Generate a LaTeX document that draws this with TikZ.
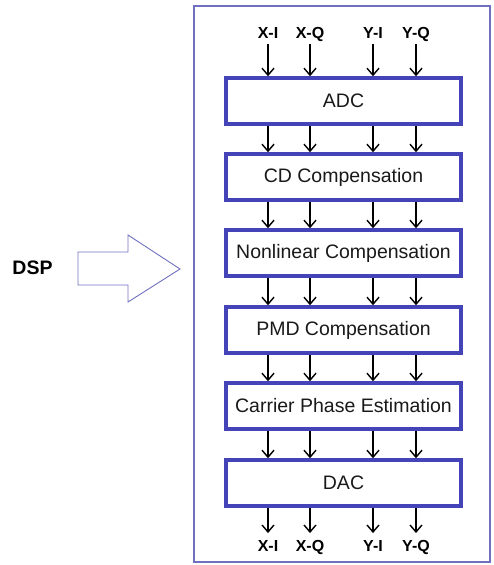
\documentclass[tikz,border=0pt]{standalone}
\usepackage{fontspec}
\setmainfont{Liberation Sans}
\usetikzlibrary{arrows.meta,calc}
\definecolor{boxblue}{RGB}{68,68,184}
\definecolor{frameblue}{RGB}{112,112,192}
\begin{document}
\begin{tikzpicture}[x=1pt,y=1pt,
  stage/.style={draw=boxblue, line width=3.5pt, minimum width=235pt, minimum height=46pt,
    inner sep=0pt, font=\fontsize{19.5}{22}\selectfont, text=black!90},
  sig/.style={font=\bfseries\fontsize{16}{18}\selectfont, inner sep=0pt, text=black,
    text height=11.5pt, text depth=0pt},
  arr/.style={-{Straight Barb[length=7pt,width=12pt,line width=1.4pt]}, line width=1.7pt},
]
\useasboundingbox (0,0) rectangle (494,-565);
% outer frame
\node[draw=frameblue, line width=1.2pt, minimum width=296pt, minimum height=556pt, inner sep=0pt] (frame) at (342,-284) {};
% signal columns
\coordinate (c1) at (268,0);
\coordinate (c2) at (310,0);
\coordinate (c3) at (373,0);
\coordinate (c4) at (416,0);
% stages
\node[stage] (adc) at (343.5,-101) {ADC};
\node[stage] (cd)  at (343.5,-177) {CD Compensation};
\node[stage] (nl)  at (343.5,-253) {Nonlinear Compensation};
\node[stage] (pmd) at (343.5,-330) {PMD Compensation};
\node[stage] (cpe) at (343.5,-406) {Carrier Phase Estimation};
\node[stage] (dac) at (343.5,-483) {DAC};
% labels
\node[sig] (ti1) at (268,-33) {X-I};
\node[sig] (ti2) at (310,-33) {X-Q};
\node[sig] (ti3) at (373,-33) {Y-I};
\node[sig] (ti4) at (416,-33) {Y-Q};
\node[sig] (bo1) at (268,-546) {X-I};
\node[sig] (bo2) at (310,-546) {X-Q};
\node[sig] (bo3) at (373,-546) {Y-I};
\node[sig] (bo4) at (416,-546) {Y-Q};
% arrows
\foreach \i in {1,...,4} {
  \draw[arr, shorten <=5pt] (ti\i) -- (adc.north -| c\i);
  \draw[arr, shorten >=7pt] (dac.south -| c\i) -- (bo\i);
}
\foreach \a/\b in {adc/cd, cd/nl, nl/pmd, pmd/cpe, cpe/dac} {
  \foreach \i in {1,...,4} {
    \draw[arr] (\a.south -| c\i) -- (\b.north -| c\i);
  }
}
% DSP label and hollow arrow
\node[font=\bfseries\fontsize{19.5}{22}\selectfont, inner sep=0pt] (dsp) at (32.5,-268) {DSP};
\draw[frameblue, line width=0.9pt] (78,-252) -- (128,-252) -- (128,-235) -- (180,-269)
  -- (128,-302) -- (128,-285) -- (78,-285) -- cycle;
\end{tikzpicture}
\end{document}
